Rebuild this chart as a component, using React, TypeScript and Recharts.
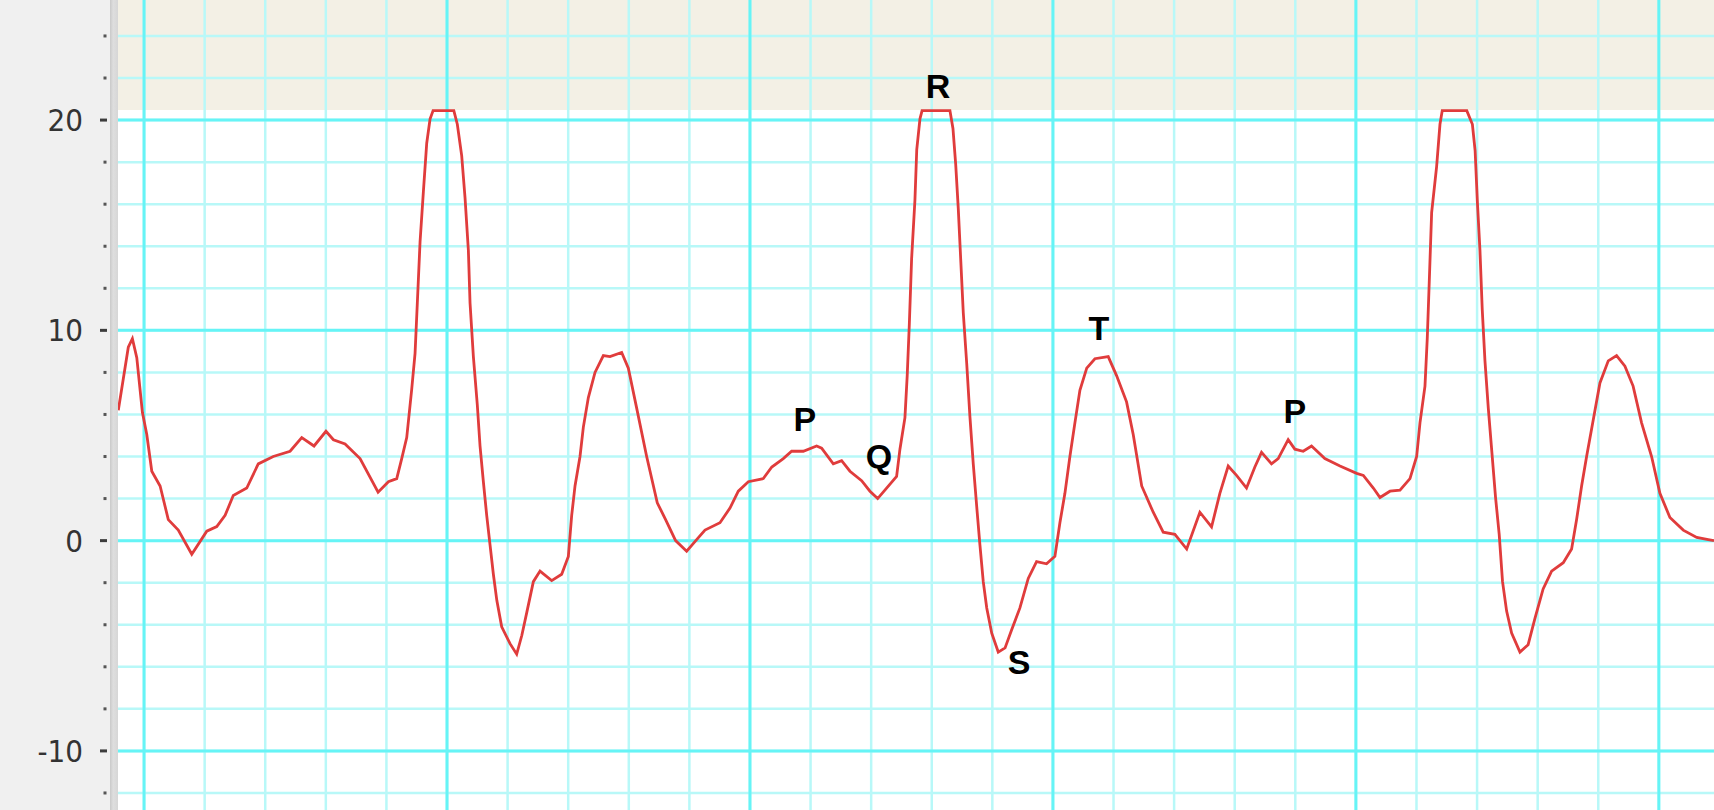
import React from "react";
import {
  LineChart,
  Line,
  XAxis,
  YAxis,
  CartesianGrid,
  ReferenceDot,
  Label,
} from "recharts";

// time in ms (one small box = 40 ms), amplitude
const timeMs = [
  -17.0, -13.7, -10.4, -7.7, -4.8, -1.1, 1.8, 5.1, 10.6, 16.0, 22.6, 31.5, 41.4, 48.0, 53.5, 58.9,
  67.8, 75.4, 85.3, 96.4, 104.1, 112.2, 120.1, 125.0, 132.7, 142.6, 154.5, 161.3, 166.8, 170.1,
  173.4, 176.7, 178.9, 180.4, 182.2, 184.4, 186.6, 188.8, 190.8, 204.5, 206.8, 209.7, 211.9, 214.1,
  215.2, 217.4, 220.0, 221.8, 224.0, 226.2, 228.4, 230.6, 232.9, 236.1, 241.6, 246.0, 249.4, 252.7,
  257.0, 261.4, 269.1, 275.7, 280.1, 282.3, 284.5, 287.8, 290.0, 293.3, 297.7, 303.2, 307.6, 315.3,
  319.7, 325.2, 331.8, 338.8, 344.3, 350.9, 358.2, 364.8, 370.3, 380.2, 386.8, 392.3, 398.9, 408.8,
  414.4, 422.0, 427.5, 435.2, 444.0, 447.3, 455.0, 460.5, 466.0, 473.7, 479.2, 484.3, 490.2, 496.8,
  499.0, 502.3, 503.8, 505.2, 506.7, 508.9, 510.1, 512.2, 513.6, 532.0, 534.0, 535.8, 537.5, 539.1,
  540.8, 543.1, 545.2, 547.4, 549.7, 551.8, 554.0, 556.3, 559.6, 563.9, 568.4, 572.7, 578.2, 583.7,
  589.2, 595.8, 601.3, 604.6, 607.9, 611.2, 614.5, 617.8, 622.3, 627.7, 636.5, 642.0, 648.6, 653.0,
  658.6, 666.2, 672.8, 680.5, 688.3, 697.0, 704.7, 710.2, 715.7, 721.2, 727.8, 733.3, 737.7, 744.3,
  748.7, 755.3, 759.7, 765.2, 770.7, 779.5, 789.5, 800.5, 804.9, 811.5, 815.9, 822.5, 829.1, 835.7,
  840.1, 842.3, 845.6, 847.1, 848.4, 850.0, 853.3, 855.5, 857.0, 873.2, 876.9, 878.7, 880.2, 881.9,
  883.4, 885.2, 887.4, 890.0, 892.2, 894.6, 896.8, 899.5, 902.8, 908.3, 913.7, 918.2, 923.6, 929.2,
  936.9, 942.4, 945.7, 949.0, 952.3, 956.7, 961.1, 966.6, 972.1, 977.6, 983.0, 988.6, 995.2, 1000.7,
  1007.3, 1016.1, 1025.0, 1032.6, 1036.4,
];

const amplitude = [
  6.2, 7.7, 9.2, 9.6, 8.7, 6.1, 5.05, 3.3, 2.6, 1.0, 0.5, -0.65, 0.45, 0.67, 1.2, 2.15,
  2.5, 3.65, 4.0, 4.25, 4.9, 4.5, 5.2, 4.8, 4.6, 3.9, 2.3, 2.8, 2.95, 3.9,
  4.9, 7.2, 8.9, 11.3, 14.2, 16.6, 18.9, 20.05, 20.45, 20.45, 19.8, 18.3, 16.3, 13.8,
  11.3, 8.75, 6.45, 4.5, 2.8, 1.2, -0.2, -1.6, -2.85, -4.1, -4.9, -5.4, -4.5, -3.4,
  -1.95, -1.45, -1.9, -1.6, -0.75, 1.2, 2.6, 4.0, 5.4, 6.8, 8.0, 8.8, 8.75, 8.95,
  8.2, 6.3, 4.0, 1.8, 1.0, 0.0, -0.5, 0.05, 0.5, 0.85, 1.55, 2.35, 2.8, 2.95,
  3.5, 3.9, 4.25, 4.25, 4.5, 4.4, 3.65, 3.8, 3.3, 2.85, 2.35, 2.0, 2.5, 3.05,
  4.35, 5.85, 7.85, 10.3, 13.4, 16.2, 18.6, 20.05, 20.45, 20.45, 19.6, 17.9, 15.8, 13.4,
  10.85, 8.4, 5.9, 3.65, 1.6, -0.2, -1.95, -3.2, -4.4, -5.3, -5.1, -4.25, -3.2, -1.8,
  -1.0, -1.1, -0.75, 0.85, 2.25, 4.0, 5.6, 7.15, 8.2, 8.65, 8.75, 7.85, 6.6, 5.05,
  2.6, 1.35, 0.4, 0.3, -0.4, 1.35, 0.65, 2.25, 3.55, 3.1, 2.5, 3.5, 4.2, 3.65,
  3.9, 4.8, 4.35, 4.25, 4.5, 3.9, 3.55, 3.2, 3.1, 2.5, 2.05, 2.35, 2.4, 2.95,
  4.0, 5.6, 7.35, 9.6, 12.25, 15.6, 17.8, 19.8, 20.45, 20.45, 19.8, 18.55, 16.1, 13.8,
  11.0, 8.55, 6.3, 4.0, 2.05, 0.3, -1.95, -3.35, -4.4, -5.3, -4.95, -3.7, -2.3, -1.45,
  -1.05, -0.4, 1.0, 2.6, 4.0, 5.75, 7.5, 8.55, 8.8, 8.3, 7.35, 5.6, 4.0, 2.25,
  1.1, 0.5, 0.15, 0.05, 0.0,
];

const yTicks = [-12, -10, -8, -6, -4, -2, 0, 2, 4, 6, 8, 10, 12, 14, 16, 18, 20, 22, 24];
const yLabelled = [-10, 0, 10, 20];
const xMinor = [
  0, 40, 80, 120, 160, 200, 240, 280, 320, 360, 400, 440, 480, 520, 560, 600, 640, 680, 720, 760,
  800, 840, 880, 920, 960, 1000,
];
const xMajor = [0, 200, 400, 600, 800, 1000];

// wave annotations
const waveNames = ["P", "Q", "R", "S", "T", "P"];
const waveTime = [436.3, 485.1, 524.1, 577.6, 630.4, 759.7];
const waveLevel = [5.78, 4.05, 21.62, -5.77, 10.13, 6.16];

// everything above this level is clipped (beige band)
const clipLevel = 20.5;
const X_DOMAIN: [number, number] = [-17.2, 1036.4];
const Y_DOMAIN: [number, number] = [-12.81, 25.71];

const data = timeMs.map((t, i) => ({ t, mv: amplitude[i] }));

function AxisTick(props: any) {
  const { x, y, payload } = props;
  const v = payload.value;
  const major = yLabelled.includes(v);
  return (
    <g>
      {major ? (
        <rect x={x - 18} y={y - 1.5} width={7} height={3} fill="#3c3c3c" />
      ) : (
        <rect x={x - 14.5} y={y - 1.5} width={3} height={3} fill="#555" />
      )}
      {major && (
        <text
          x={x - 35}
          y={y}
          textAnchor="end"
          dominantBaseline="central"
          fill="#333"
          fontSize={31}
          fontFamily="'DejaVu Sans Condensed', 'DejaVu Sans', sans-serif"
        >
          {v}
        </text>
      )}
    </g>
  );
}

export default function App() {
  return (
    <div
      style={{
        position: "fixed",
        left: 0,
        top: 0,
        width: 1714,
        height: 810,
        background: "#f0f0f0",
      }}
    >
      <LineChart width={1714} height={810} data={data} margin={{ top: 0, right: 0, bottom: 0, left: 0 }}>
        {/* background: beige above the clip level, white below */}
        <CartesianGrid
          vertical={false}
          horizontalValues={[clipLevel]}
          horizontalFill={["#f3f0e5", "#ffffff"]}
          stroke="none"
        />
        <CartesianGrid
          horizontalValues={yTicks}
          verticalValues={xMinor}
          stroke="#b8f8f8"
          strokeWidth={2.5}
        />
        <CartesianGrid
          horizontalValues={yLabelled}
          verticalValues={xMajor}
          stroke="#66f4f6"
          strokeWidth={3}
        />
        <XAxis type="number" dataKey="t" domain={X_DOMAIN} allowDataOverflow hide />
        <YAxis
          type="number"
          domain={Y_DOMAIN}
          allowDataOverflow
          width={118}
          ticks={yTicks}
          interval={0}
          tickSize={0}
          tickMargin={0}
          axisLine={false}
          tickLine={false}
          tick={<AxisTick />}
        />
        <Line
          type="linear"
          dataKey="mv"
          stroke="#e03c3c"
          strokeWidth={2.8}
          dot={false}
          isAnimationActive={false}
        />
        {waveNames.map((name, i) => (
          <ReferenceDot
            key={`w-${i}`}
            x={waveTime[i]}
            y={waveLevel[i]}
            r={0}
            fill="none"
            stroke="none"
          >
            <Label
              value={name}
              position="center"
              fill="#000"
              fontSize={34}
              fontWeight="bold"
              fontFamily="'Liberation Sans', Arial, sans-serif"
            />
          </ReferenceDot>
        ))}
      </LineChart>
      <div
        style={{
          position: "absolute",
          left: 110,
          top: 0,
          width: 8,
          height: 810,
          background: "linear-gradient(to right, #c9c9c9, #dedede 40%, #d6d6d6)",
        }}
      />
    </div>
  );
}
